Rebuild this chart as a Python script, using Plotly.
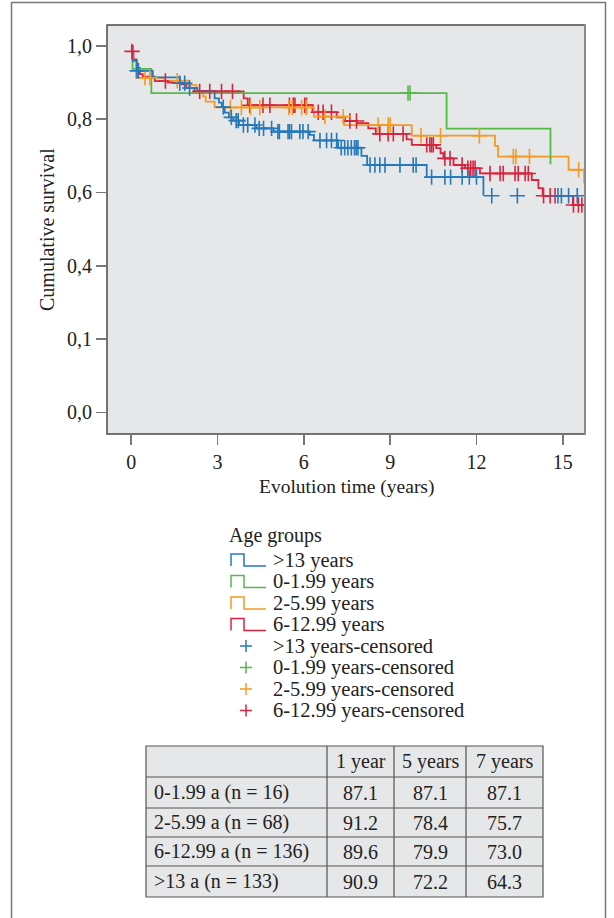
import numpy as np
import plotly.graph_objects as go

W, H = 614, 918
FONT = "Liberation Serif"

# ---------------- data ----------------
group_names = [">13 years", "0-1.99 years", "2-5.99 years", "6-12.99 years"]
group_colors = ["#2479bd", "#55b949", "#f59a23", "#d8243f"]

# >13 years
blue_event_t = [0.05, 0.20, 0.75, 1.69, 2.03, 2.30, 2.90, 3.05, 3.15, 3.25, 3.40, 3.55, 3.75,
                4.35, 4.95, 6.20, 6.35, 7.19, 8.00, 8.20, 10.27, 12.24]
blue_event_s = [0.960, 0.932, 0.914, 0.898, 0.885, 0.877, 0.857, 0.845, 0.833, 0.818, 0.805, 0.796, 0.784,
                0.775, 0.766, 0.757, 0.742, 0.722, 0.700, 0.675, 0.642, 0.591]
blue_censor_t = [0.20, 0.25, 1.69, 1.86, 2.03, 3.20, 3.48, 3.65, 3.72, 3.90, 4.05, 4.30, 4.45, 4.60, 4.88,
                 5.10, 5.15, 5.45, 5.50, 5.57, 5.86, 5.97, 6.15, 6.56, 6.79, 6.96, 7.14, 7.30, 7.42, 7.53,
                 7.65, 7.76, 7.82, 7.88, 8.30, 8.47, 8.64, 8.82, 9.34, 9.80, 9.90, 10.44, 10.90, 11.10,
                 11.50, 11.75, 12.00, 12.53, 13.42, 14.83, 14.95, 15.20, 15.50]
blue_end = None

# 0-1.99 years
green_event_t = [0.05, 0.70, 10.96, 14.57]
green_event_s = [0.9375, 0.871, 0.774, 0.677]
green_censor_t = [9.62, 9.69]
green_end = None

# 2-5.99 years
orange_event_t = [0.05, 0.17, 1.15, 2.00, 2.27, 2.50, 2.59, 2.90, 6.35, 7.40, 9.75, 12.64, 12.75, 15.20, 15.74]
orange_event_s = [0.958, 0.913, 0.905, 0.893, 0.875, 0.862, 0.848, 0.832, 0.807, 0.784, 0.755, 0.727, 0.698,
                  0.662, 0.625]
orange_censor_t = [0.48, 0.65, 1.60, 3.45, 3.83, 4.15, 4.47, 5.48, 5.60, 5.92, 6.09, 6.73, 7.37, 8.58, 8.93,
                   9.00, 10.07, 10.75, 12.10, 13.28, 13.37, 13.84, 15.55]
orange_end = None

# 6-12.99 years
red_event_t = [0.02, 0.08, 0.18, 0.30, 0.40, 0.82, 1.27, 1.75, 1.92, 2.20, 3.91, 4.05, 6.30, 7.14, 7.43,
               7.85, 8.24, 8.50, 9.57, 9.75, 10.60, 10.75, 10.85, 11.20, 11.60, 12.12, 13.92, 14.15, 14.30,
               15.35]
red_event_s = [0.985, 0.963, 0.940, 0.923, 0.916, 0.904, 0.900, 0.895, 0.885, 0.876, 0.857, 0.838, 0.819,
               0.805, 0.795, 0.789, 0.775, 0.760, 0.745, 0.730, 0.721, 0.707, 0.693, 0.675, 0.666, 0.652,
               0.634, 0.612, 0.591, 0.566]
red_censor_t = [0.03, 1.19, 2.38, 2.73, 3.14, 3.52, 4.12, 4.58, 4.82, 5.50, 5.63, 5.69, 6.03, 6.09, 6.50,
                6.67, 6.96, 7.60, 7.83, 8.64, 8.93, 9.11, 9.45, 10.27, 10.38, 10.44, 10.50, 10.90, 11.08,
                11.50, 11.70, 11.80, 11.88, 11.95, 12.47, 12.82, 12.93, 13.34, 13.45, 13.69, 13.80, 14.33,
                14.56, 14.73, 15.37, 15.54, 15.66]
red_end = 15.70

x_ticks = [0, 3, 6, 9, 12, 15]
y_ticks = [0.0, 0.2, 0.4, 0.6, 0.8, 1.0]
y_ticktext = ["0,0", "0,1", "0,4", "0,6", "0,8", "1,0"]

x_title = "Evolution time (years)"
y_title = "Cumulative survival"
legend_title = "Age groups"
censor_suffix = "-censored"

table_header = ["", "1 year", "5 years", "7 years"]
table_groups = ["0-1.99 a (n = 16)", "2-5.99 a (n = 68)", "6-12.99 a (n = 136)", ">13 a (n = 133)"]
table_1y = [87.1, 91.2, 89.6, 90.9]
table_5y = [87.1, 78.4, 79.9, 72.2]
table_7y = [87.1, 75.7, 73.0, 64.3]

# ---------------- helpers: page pixels -> paper coords ----------------
def PX(x):
    return x / W

def PY(y):
    return 1 - y / H

groups = [
    (blue_event_t, blue_event_s, blue_censor_t, blue_end),
    (green_event_t, green_event_s, green_censor_t, green_end),
    (orange_event_t, orange_event_s, orange_censor_t, orange_end),
    (red_event_t, red_event_s, red_censor_t, red_end),
]

fig = go.Figure()

draw_order = [3, 2, 1, 0]
for gi in draw_order:
    et, es, ct, end = groups[gi]
    col = group_colors[gi]
    xs = [0.0] + list(et)
    ys = [1.0] + list(es)
    if end is not None:
        xs.append(end)
        ys.append(es[-1])
    fig.add_trace(go.Scatter(x=xs, y=ys, mode="lines", line=dict(color=col, width=1.8, shape="hv"),
                             showlegend=False, hoverinfo="skip"))

for gi in draw_order:
    et, es, ct, end = groups[gi]
    col = group_colors[gi]
    st = np.array([0.0] + list(et))
    sv = np.array([1.0] + list(es))
    idx = np.searchsorted(st, np.array(ct), side="right") - 1
    cy = sv[idx]
    fig.add_trace(go.Scatter(x=ct, y=cy, mode="markers",
                             marker=dict(symbol="cross-thin", size=11, line=dict(color=col, width=1.6)),
                             showlegend=False, hoverinfo="skip"))

# plot area geometry (page pixels)
pl, pr, pt, pb = 107, 585, 25, 434

fig.update_layout(
    width=W, height=H,
    margin=dict(l=0, r=0, t=0, b=0),
    paper_bgcolor="white",
    plot_bgcolor="#e6e7e8",
    showlegend=False,
    hovermode=False,
    font=dict(family=FONT, size=20, color="#222"),
    xaxis=dict(domain=[PX(pl), PX(pr)], range=[-0.84, 15.77], tickvals=x_ticks,
               ticks="outside", ticklen=10, tickwidth=1.5, tickcolor="#777",
               showgrid=False, zeroline=False, showline=False,
               tickfont=dict(family=FONT, size=20, color="#222")),
    yaxis=dict(domain=[PY(pb), PY(pt)], range=[-0.059, 1.057], tickvals=y_ticks, ticktext=y_ticktext,
               ticks="outside", ticklen=10, tickwidth=1.5, tickcolor="#777",
               showgrid=False, zeroline=False, showline=False,
               tickfont=dict(family=FONT, size=20, color="#222")),
)

shapes = []
annotations = []

# plot border (left/top/bottom dark, right lighter)
shapes.append(dict(type="rect", xref="paper", yref="paper", x0=PX(pl), x1=PX(pr), y0=PY(pb), y1=PY(pt),
                   line=dict(color="#4a4a4a", width=1.5), fillcolor="rgba(0,0,0,0)", layer="above"))
shapes.append(dict(type="line", xref="paper", yref="paper", x0=PX(pr), x1=PX(pr), y0=PY(pb), y1=PY(pt),
                   line=dict(color="#8a8a8a", width=2), layer="above"))
# outer frame (bottom edge runs off the page)
shapes.append(dict(type="rect", xref="paper", yref="paper", x0=PX(11.5), x1=PX(605.5), y0=PY(925), y1=PY(2.5),
                   line=dict(color="#777", width=1.5), fillcolor="rgba(0,0,0,0)"))

annotations.append(dict(text=x_title, x=PX(346), y=PY(487), xref="paper", yref="paper",
                        showarrow=False, xanchor="center", yanchor="middle",
                        font=dict(family=FONT, size=19.5, color="#222")))
annotations.append(dict(text=y_title, x=PX(47), y=PY(230), xref="paper", yref="paper",
                        showarrow=False, xanchor="center", yanchor="middle", textangle=-90,
                        font=dict(family=FONT, size=20, color="#222")))

# manual legend
annotations.append(dict(text=legend_title, x=PX(227), y=PY(535), xref="paper", yref="paper",
                        showarrow=False, xanchor="left", yanchor="middle",
                        font=dict(family=FONT, size=20, color="#222")))
row0, dy = 560, 21.5
legend_labels = group_names + [g + censor_suffix for g in group_names]
for i, lab in enumerate(legend_labels):
    yc = row0 + i * dy
    annotations.append(dict(text=lab, x=PX(271), y=PY(yc), xref="paper", yref="paper",
                            showarrow=False, xanchor="left", yanchor="middle",
                            font=dict(family=FONT, size=20.5, color="#222")))
    col = group_colors[i % 4]
    if i < 4:
        path = "M {} {} L {} {} L {} {} L {} {} L {} {}".format(
            PX(231), PY(yc + 6), PX(231), PY(yc - 6), PX(244), PY(yc - 6), PX(244), PY(yc + 6),
            PX(266), PY(yc + 6))
        shapes.append(dict(type="path", xref="paper", yref="paper", path=path,
                           line=dict(color=col, width=1.5)))
    else:
        cx = 246
        shapes.append(dict(type="line", xref="paper", yref="paper", x0=PX(cx - 6), x1=PX(cx + 6),
                           y0=PY(yc), y1=PY(yc), line=dict(color=col, width=1.5)))
        shapes.append(dict(type="line", xref="paper", yref="paper", x0=PX(cx), x1=PX(cx),
                           y0=PY(yc - 6), y1=PY(yc + 6), line=dict(color=col, width=1.5)))

# manual table
col_x = [146, 327, 394, 466, 543]
row_y = [746, 777, 808, 837, 866, 897]
shapes.append(dict(type="rect", xref="paper", yref="paper", x0=PX(col_x[0]), x1=PX(col_x[-1]),
                   y0=PY(row_y[-1]), y1=PY(row_y[0]), fillcolor="#e6e7e8",
                   line=dict(color="#555", width=1.2), layer="below"))
for yv in row_y[1:-1]:
    shapes.append(dict(type="line", xref="paper", yref="paper", x0=PX(col_x[0]), x1=PX(col_x[-1]),
                       y0=PY(yv), y1=PY(yv), line=dict(color="#555", width=1.2)))
for xv in col_x[1:-1]:
    shapes.append(dict(type="line", xref="paper", yref="paper", x0=PX(xv), x1=PX(xv),
                       y0=PY(row_y[0]), y1=PY(row_y[-1]), line=dict(color="#555", width=1.2)))

table_cols = [table_groups,
              ["{:.1f}".format(v) for v in table_1y],
              ["{:.1f}".format(v) for v in table_5y],
              ["{:.1f}".format(v) for v in table_7y]]
for ci, head in enumerate(table_header):
    if head:
        annotations.append(dict(text=head, x=PX((col_x[ci] + col_x[ci + 1]) / 2),
                                y=PY((row_y[0] + row_y[1]) / 2), xref="paper", yref="paper",
                                showarrow=False, xanchor="center", yanchor="middle",
                                font=dict(family=FONT, size=20, color="#222")))
for ci, colvals in enumerate(table_cols):
    for ri, val in enumerate(colvals):
        yc = (row_y[ri + 1] + row_y[ri + 2]) / 2
        if ci == 0:
            ax, anc = col_x[0] + 6, "left"
        else:
            ax, anc = (col_x[ci] + col_x[ci + 1]) / 2, "center"
        annotations.append(dict(text=val, x=PX(ax), y=PY(yc), xref="paper", yref="paper",
                                showarrow=False, xanchor=anc, yanchor="middle",
                                font=dict(family=FONT, size=20, color="#222")))

fig.update_layout(shapes=shapes, annotations=annotations)

# remove the default 8px body margin so the figure fills the 614x918 window exactly
fig.write_html("out.html",
               config={"displayModeBar": False, "staticPlot": True},
               post_script="document.body.style.margin='0';document.body.style.overflow='hidden';")
